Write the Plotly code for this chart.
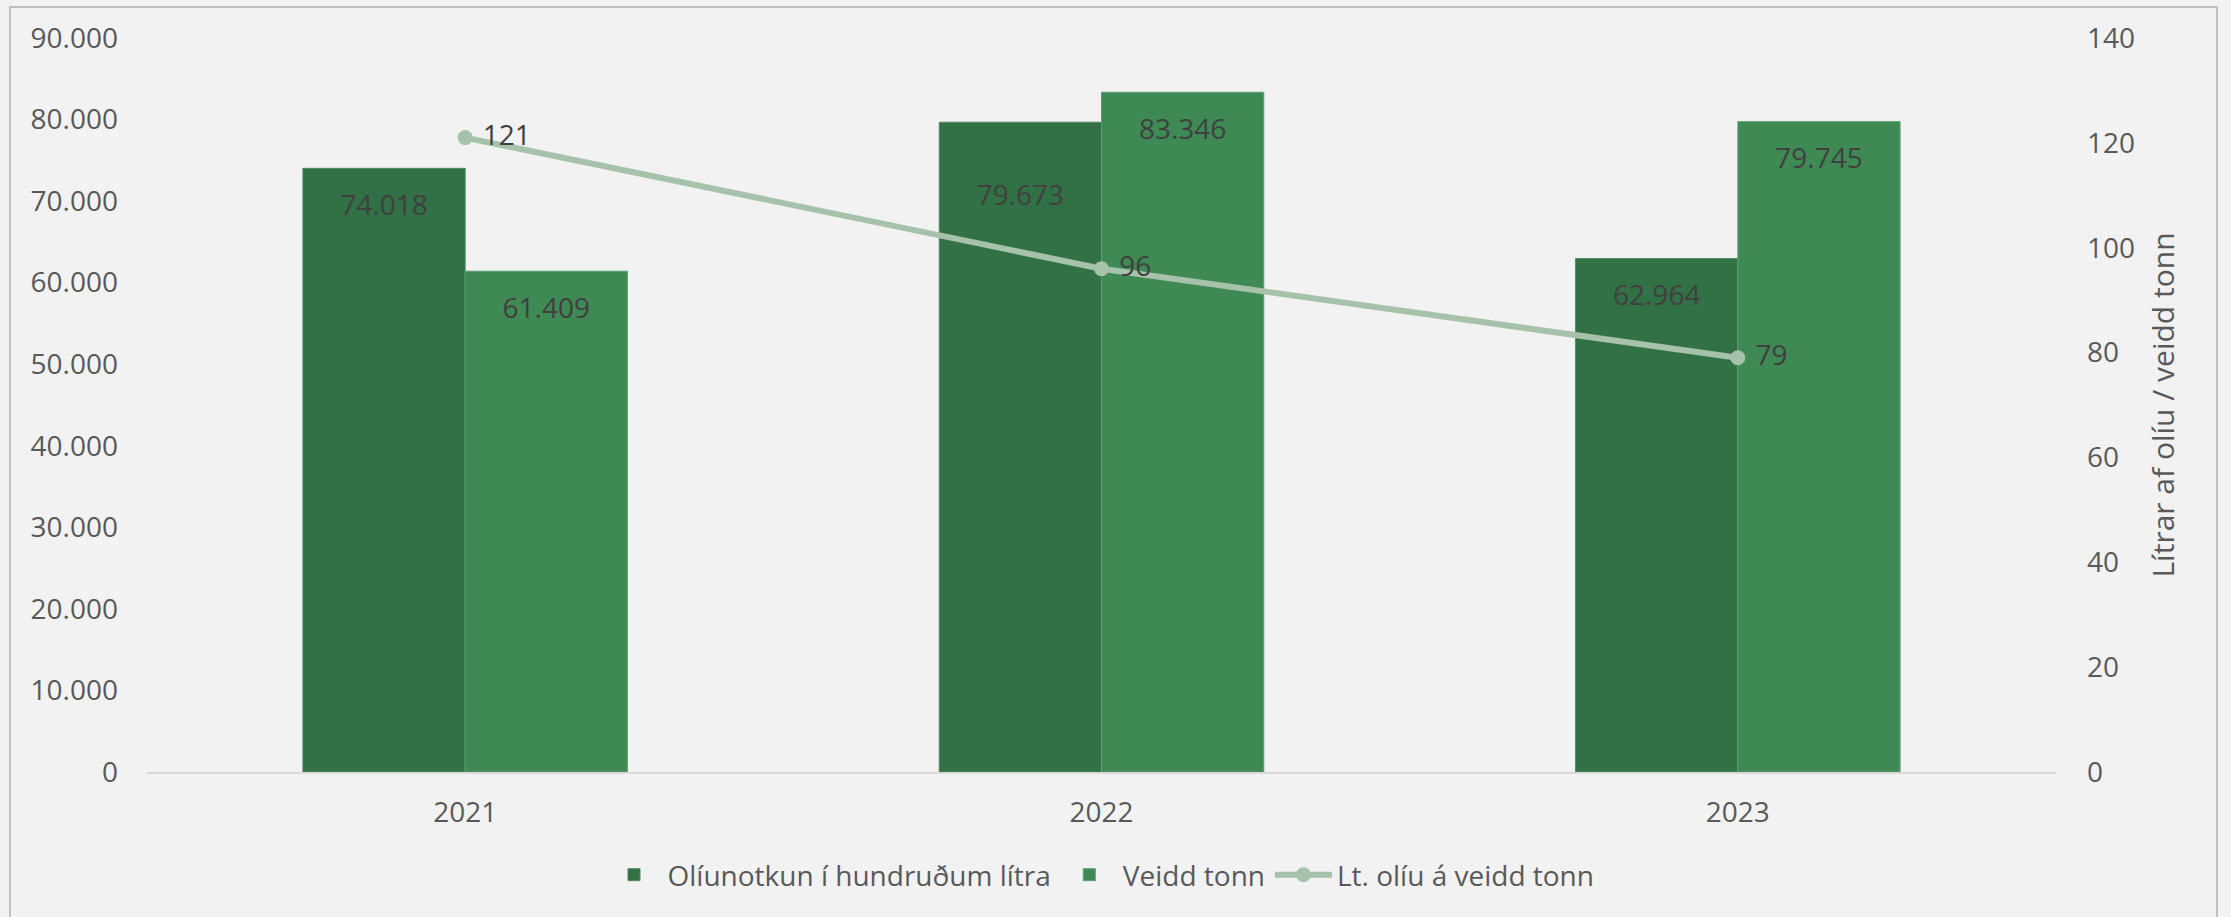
import plotly.graph_objects as go

years = ["2021", "2022", "2023"]
oil_hundred_litres = [74018, 79673, 62964]
caught_tonnes = [61409, 83346, 79745]
litres_per_tonne = [121, 96, 79]

left_ticks = [0, 10000, 20000, 30000, 40000, 50000, 60000, 70000, 80000, 90000]
right_ticks = [0, 20, 40, 60, 80, 100, 120, 140]

FONT = "Open Sans"
FS = 28
TICK_COLOR = "#595959"
LABEL_COLOR = "#404040"

# small invisible spacer line so bar labels sit a little lower inside the bars
PAD = "<span style='font-size:7px'>\u00a0</span><br>"
PAD_BIG = PAD + "\u00a0<br>"

fig = go.Figure()
fig.add_trace(go.Bar(
    x=years, y=oil_hundred_litres, name="Olíunotkun í hundruðum lítra",
    marker=dict(color="#327045", line=dict(color="#4f8a62", width=1)),
    texttemplate=[PAD + "%{y:,}", PAD_BIG + "%{y:,}", PAD + "%{y:,}"],
    textposition="inside", insidetextanchor="end",
    textfont=dict(family=FONT, size=FS, color=LABEL_COLOR), textangle=0,
))
fig.add_trace(go.Bar(
    x=years, y=caught_tonnes, name="Veidd tonn",
    marker=dict(color="#3e8954", line=dict(color="#5e9f72", width=1)),
    texttemplate=PAD + "%{y:,}", textposition="inside", insidetextanchor="end",
    textfont=dict(family=FONT, size=FS, color=LABEL_COLOR), textangle=0,
))
fig.add_trace(go.Scatter(
    x=years, y=litres_per_tonne, name="Lt. olíu á veidd tonn", yaxis="y2",
    mode="lines+markers+text", line=dict(color="#a6c2ab", width=6),
    marker=dict(color="#a6c2ab", size=15),
    texttemplate=" %{y}", textposition="middle right",
    textfont=dict(family=FONT, size=FS, color=LABEL_COLOR),
))

plot_l, plot_r, plot_t, plot_b = 147, 2056, 38, 772
W, H = 2231, 917
pw, ph = plot_r - plot_l, plot_b - plot_t

def px2x(p):
    return (p - plot_l) / pw

def py2y(p):
    return (plot_b - p) / ph

fig.update_layout(
    width=W, height=H, autosize=False,
    margin=dict(l=plot_l, r=W - plot_r, t=plot_t, b=H - plot_b, pad=0, autoexpand=False),
    paper_bgcolor="#f2f2f2", plot_bgcolor="#f2f2f2",
    font=dict(family=FONT, size=FS, color=TICK_COLOR),
    separators=",.",
    barmode="group", bargap=0.49, bargroupgap=0,
    showlegend=True,
    legend=dict(orientation="h", x=px2x(1100), xanchor="center",
                y=py2y(875), yanchor="middle", bgcolor="rgba(0,0,0,0)",
                font=dict(family=FONT, size=FS, color=TICK_COLOR),
                itemwidth=57, traceorder="normal"),
    xaxis=dict(showgrid=False, showline=True, linecolor="#d9d9d9", linewidth=2,
               ticks="", ticklabelstandoff=14, automargin=False,
               tickfont=dict(family=FONT, size=FS, color=TICK_COLOR)),
    yaxis=dict(range=[0, 90000], tickvals=left_ticks, tickformat=",d", automargin=False,
               showgrid=False, zeroline=False, showline=False, ticks="",
               ticklabelstandoff=28,
               tickfont=dict(family=FONT, size=FS, color=TICK_COLOR)),
    yaxis2=dict(range=[0, 140], tickvals=right_ticks, overlaying="y", side="right",
                showgrid=False, zeroline=False, showline=False, ticks="", automargin=False,
                ticklabelstandoff=30,
                title=dict(text="Lítrar af olíu / veidd tonn", standoff=18,
                           font=dict(family=FONT, size=30, color=TICK_COLOR)),
                tickfont=dict(family=FONT, size=FS, color=TICK_COLOR)),
    shapes=[dict(type="rect", xref="paper", yref="paper",
                 x0=px2x(10), x1=px2x(2217), y0=py2y(930), y1=py2y(7),
                 line=dict(color="#c0c0c0", width=2), fillcolor="rgba(0,0,0,0)",
                 layer="below")],
)

fig.write_html(
    "out.html",
    config={"displayModeBar": False},
    post_script="document.body.style.margin='0';document.body.style.background='#f2f2f2';",
)
